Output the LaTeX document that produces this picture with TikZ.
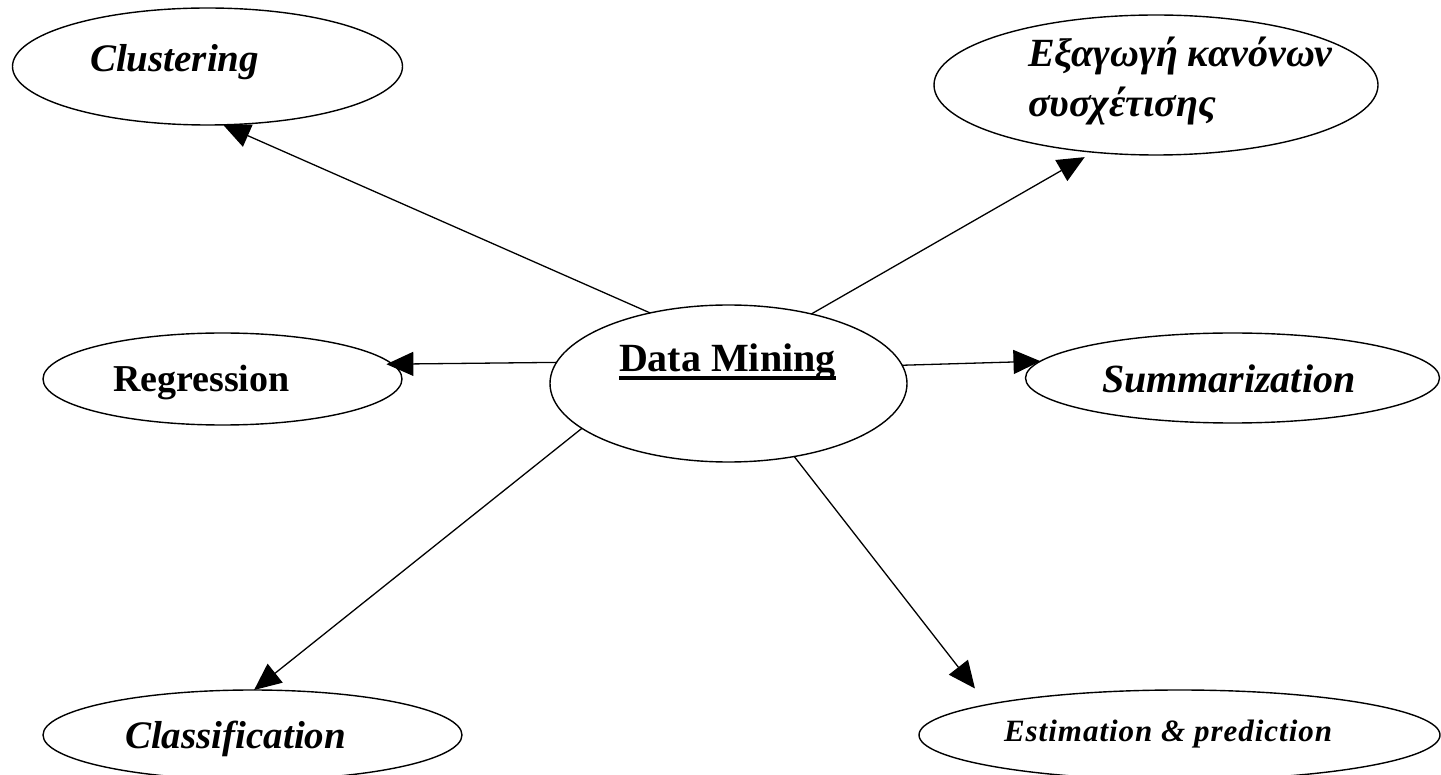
\documentclass[tikz,border=0pt]{standalone}
\usepackage{fontspec}
\setmainfont{Liberation Serif}
\usetikzlibrary{shapes.geometric,arrows.meta,calc}
\begin{document}
\begin{tikzpicture}[x=1pt,y=-1pt,
  bubble/.style={draw, ellipse, line width=1.4pt, inner sep=0pt, outer sep=0pt},
  lbl/.style={anchor=base west, inner sep=0pt, outer sep=0pt},
  bi/.style={lbl, font=\fontsize{#1}{#1}\selectfont\bfseries\itshape},
  bu/.style={lbl, font=\fontsize{#1}{#1}\selectfont\bfseries},
  link/.style={line width=1.3pt, -{Triangle[length=27pt,width=24pt]}},
]
\useasboundingbox (0,0) rectangle (1441,775);

% ellipses
\node[bubble, minimum width=390pt, minimum height=117pt] (clu) at (207.5,66.5) {};
\node[bubble, minimum width=444pt, minimum height=140pt] (exa) at (1156,85) {};
\node[bubble, minimum width=357pt, minimum height=157pt] (dm)  at (728.5,383.5) {};
\node[bubble, minimum width=359pt, minimum height=92pt]  (reg) at (222.5,379) {};
\node[bubble, minimum width=414pt, minimum height=90pt]  (sum) at (1232.5,378) {};
\node[bubble, minimum width=419pt, minimum height=90pt]  (cla) at (252.5,735) {};
\node[bubble, minimum width=521pt, minimum height=90pt]  (est) at (1179.5,735) {};

% labels
\node[bi=39pt] (clu-t) at (90,72) {Clustering};
\node[bi=40pt] (exa-t1) at (1028,67) {Εξαγωγή κανόνων};
\node[bi=40pt] (exa-t2) at (1028,117) {συσχέτισης};
\node[bu=40pt] (dm-t) at (619,372) {Data Mining};
\fill ($(dm-t.base west)+(0,4)$) rectangle ($(dm-t.base east)+(0,8.5)$);
\node[bu=38pt] (reg-t) at (113,392) {Regression};
\node[bi=40pt] (sum-t) at (1102,393) {Summarization};
\node[bi=39pt] (cla-t) at (125,748) {Classification};
\node[bi=31pt] (est-t) at (1004,741) {\addfontfeature{LetterSpace=3.2}Estimation \& prediction};

% connectors
\draw[link] (dm.138.4) -- (clu.-75.7);
\draw[link, shorten >=10pt] (dm.40.9) -- (exa.-133.3);
\draw[link, shorten >=-6pt] (dm.173.5) -- (reg.5.4);
\draw[link] (dm.6.6) -- (sum.175.6);
\draw[link] (dm.-163.1) -- (cla.88.7);
\draw[link, shorten >=20.4pt] (dm.-48.9) -- (est.171.9);
\end{tikzpicture}
\end{document}
